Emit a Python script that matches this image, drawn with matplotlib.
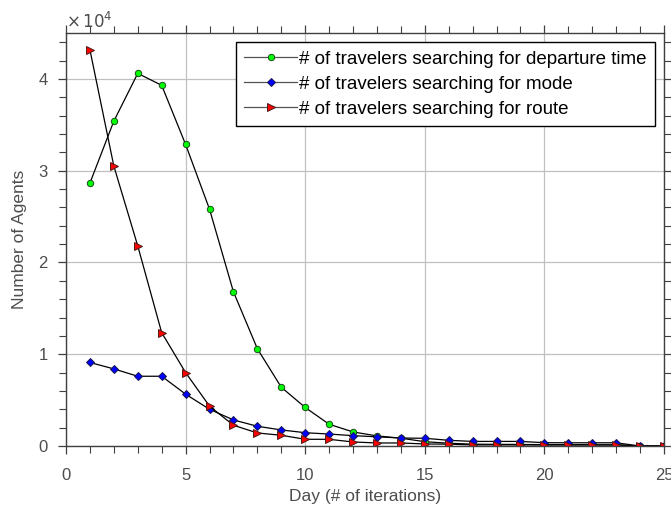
import matplotlib
matplotlib.use("Agg")
import matplotlib.pyplot as plt
from matplotlib.ticker import MultipleLocator, FuncFormatter

plt.rcParams['font.family'] = ['Liberation Sans', 'DejaVu Sans']

days = list(range(1, 26))
departure = [28650, 35400, 40600, 39300, 32860, 25800, 16800, 10600, 6400, 4200,
             2370, 1530, 1100, 850, 470, 300, 200, 180, 170, 150, 150, 140, 130, 0, 0]
mode = [9100, 8400, 7600, 7600, 5650, 4000, 2840, 2150, 1750, 1450,
        1300, 1130, 1000, 870, 840, 620, 500, 500, 500, 360, 350, 350, 350, 0, 0]
route = [43170, 30500, 21800, 12350, 8000, 4340, 2260, 1420, 1170, 730,
         730, 440, 330, 330, 220, 200, 120, 120, 120, 110, 110, 110, 110, 0, 0]

labels = ['# of travelers searching for departure time',
          '# of travelers searching for mode',
          '# of travelers searching for route']

fig = plt.figure(figsize=(6.71, 5.12), dpi=100)
ax = fig.add_axes([66/671, 1-446/512, (664-66)/671, (446-33)/512])

gray = '#4d4d4d'
ax.plot(days, departure, '-o', color='k', lw=0.9, ms=4.6, mfc='#00ff00', mec='#1a4d1a', mew=0.7, label=labels[0])
ax.plot(days, mode, '-D', color='k', lw=0.9, ms=4.2, mfc='#0000ff', mec='#1a1a4d', mew=0.7, label=labels[1])
ax.plot(days, route, '->', color='k', lw=0.9, ms=6.0, mfc='#ff0000', mec='#4d1a1a', mew=0.7, label=labels[2])

ax.set_xlim(0, 25)
ax.set_ylim(0, 45000)
ax.xaxis.set_major_locator(MultipleLocator(5))
ax.xaxis.set_minor_locator(MultipleLocator(1))
ax.yaxis.set_major_locator(MultipleLocator(10000))
ax.yaxis.set_minor_locator(MultipleLocator(2000))
ax.yaxis.set_major_formatter(FuncFormatter(lambda v, p: '%d' % round(v/10000)))

ax.grid(True, which='major', color='#c0c0c0', lw=0.9, ls='-')
ax.set_axisbelow(True)
for s in ax.spines.values():
    s.set_color('#404040')
    s.set_linewidth(1.0)
ax.tick_params(which='both', direction='out', top=True, right=True, colors='#404040',
               labelcolor=gray, labelsize=12)
ax.tick_params(which='major', length=6, width=0.9)
ax.tick_params(which='minor', length=5, width=0.8)
ax.tick_params(axis='x', which='major', pad=10)
ax.tick_params(axis='y', which='major', pad=7)

ax.set_xlabel('Day (# of iterations)', fontsize=12.5, color=gray, labelpad=4)
ax.set_ylabel('Number of Agents', fontsize=12.5, color=gray, labelpad=8)
ax.text(0.0, 1.005, r'$\times\,10^{4}$', transform=ax.transAxes, fontsize=12,
        color=gray, ha='left', va='bottom')

leg = ax.legend(loc='upper right', fontsize=13.5, frameon=True, fancybox=False,
                edgecolor='k', framealpha=1, handlelength=2.8, handletextpad=0.1,
                labelspacing=0.42, borderpad=0.45, borderaxespad=0.5)
leg.get_frame().set_linewidth(1.0)
for h in leg.get_lines():
    h.set_color('#555555')

fig.savefig('out.png', dpi=100)
